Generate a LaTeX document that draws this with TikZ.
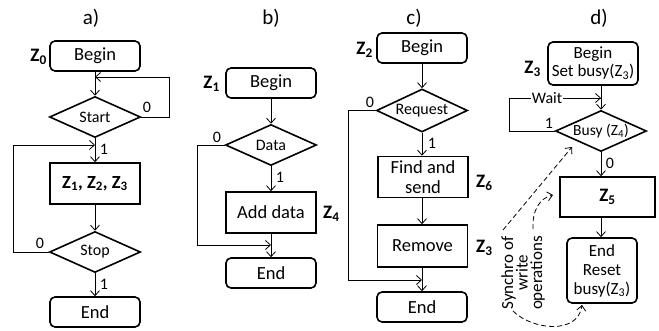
\documentclass[tikz,border=0pt]{standalone}
\usepackage{fontspec}
\setmainfont{Carlito}
\usetikzlibrary{shapes.geometric,arrows.meta}
\begin{document}
\begin{tikzpicture}[x=1pt,y=-1pt,
  every node/.style={inner sep=0pt},
  term/.style={draw,line width=1.6pt,rounded corners=5pt,minimum width=90pt,minimum height=30pt,font=\fontsize{18.5}{20}\selectfont,align=center},
  proc/.style={draw,line width=1.6pt,minimum width=90pt,minimum height=41pt,font=\fontsize{18.5}{20}\selectfont,align=center},
  dec/.style={draw,diamond,aspect=2.3,line width=1.6pt,minimum width=91pt,minimum height=41pt,font=\fontsize{16}{18}\selectfont},
  lab/.style={font=\fontsize{16}{18}\selectfont},
  zlab/.style={font=\fontsize{19}{20}\selectfont\bfseries},
  ttl/.style={font=\fontsize{21}{22}\selectfont},
  conn/.style={line width=0.8pt,-{Straight Barb[length=5pt,width=9pt]}},
  dsh/.style={conn,dash pattern=on 5pt off 3pt},
]
\useasboundingbox (0,0) rectangle (659,331);

% ---------- a)
\node[ttl] (ta) at (91,18) {a)};
\node[term] (a1) at (95,56) {Begin};
\node[zlab,anchor=east] (za0) at (47,57) {Z\textsubscript{0}};
\node[dec] (a2) at (95,117) {Start};
\node[proc] (a3) at (95,183.5) {\textbf{Z\textsubscript{1}, Z\textsubscript{2}, Z\textsubscript{3}}};
\node[dec] (a4) at (95,252) {Stop};
\node[term] (a5) at (95,312) {End};
\coordinate (aj1) at (95,77);
\coordinate (aj2) at (95,145);
\draw[conn] (a1) -- (a2);
\draw[conn] (a2.east) -- ++(28,0) |- (aj1);
\draw[conn] (a2) -- (a3);
\draw[conn] (a3) -- (a4);
\draw[conn] (a4.west) -- ++(-35,0) |- (aj2);
\draw[conn] (a4) -- (a5);
\node[lab] (la1) at (147,107) {0};
\node[lab] (la2) at (104,149) {1};
\node[lab] (la3) at (40,243) {0};
\node[lab] (la4) at (104,284) {1};

% ---------- b)
\node[ttl] (tb) at (271,18) {b)};
\node[term] (b1) at (271,83) {Begin};
\node[zlab,anchor=east] (zb1) at (220,84) {Z\textsubscript{1}};
\node[dec] (b2) at (271,145) {Data};
\node[proc] (b3) at (271,212.5) {Add data};
\node[zlab,anchor=west] (zb4) at (323,214) {Z\textsubscript{4}};
\node[term] (b4) at (271,273) {End};
\coordinate (bj) at (271,245);
\draw[conn] (b1) -- (b2);
\draw[conn] (b2) -- (b3);
\draw[conn] (b3) -- (b4);
\draw[conn] (b2.west) -- ++(-27,0) |- (bj);
\node[lab] (lb1) at (217,137) {0};
\node[lab] (lb2) at (280,177) {1};

% ---------- c)
\node[ttl] (tc) at (414,18) {c)};
\node[term] (c1) at (422,48) {Begin};
\node[zlab,anchor=east] (zc2) at (373,50) {Z\textsubscript{2}};
\node[dec,minimum height=43pt] (c2) at (422,110.5) {Request};
\node[proc,minimum height=41pt] (c3) at (423,177) {Find and\\send};
\node[zlab,anchor=west] (zc6) at (476,183) {Z\textsubscript{6}};
\node[proc,minimum height=42pt] (c4) at (422.5,246) {Remove};
\node[zlab,anchor=west] (zc3) at (476,248) {Z\textsubscript{3}};
\node[term] (c5) at (422,307) {End};
\coordinate (cj) at (422,280);
\draw[conn] (c1) -- (c2);
\draw[conn] (c2.south) -- (c2.south |- c3.north);
\draw[conn] (c2.south |- c3.south) -- (c2.south |- c4.north);
\draw[conn] (c2.south |- c4.south) -- (c5);
\draw[conn] (c2.west) -- ++(-27,0) |- (cj);
\node[lab] (lc1) at (370,102) {0};
\node[lab] (lc2) at (432,143) {1};

% ---------- d)
\node[ttl] (td) at (599,18) {d)};
\node[term,minimum height=43pt,font=\fontsize{17}{18}\selectfont] (d1) at (593,63.5) {Begin\\Set busy(Z\textsubscript{3})};
\node[zlab,anchor=east] (zd3) at (541,69) {Z\textsubscript{3}};
\node[dec,font=\fontsize{15.5}{17}\selectfont] (d2) at (601,131) {Busy (Z\textsubscript{4})};
\node[proc,minimum width=95pt,minimum height=40pt,font=\fontsize{19}{20}\selectfont\bfseries] (d3) at (607.5,197) {Z\textsubscript{5}};
\node[term,minimum width=70pt,minimum height=65pt,font=\fontsize{17}{19}\selectfont] (d4) at (602,270.5) {End\\Reset\\busy(Z\textsubscript{3})};
\coordinate (dj) at (601,98);
\draw[conn] (d1.south -| d2.north) -- (d2.north);
\draw[conn] (d2.south) -- (d2.south |- d3.north);
\draw[conn] (d2.south |- d3.south) -- (d2.south |- d4.north);
\draw[line width=0.8pt] (d2.west) -- ++(-45,0) |- (dj);
\node[font=\fontsize{16}{18}\selectfont,fill=white,inner xsep=1pt] (wait) at (547,98) {Wait};
\draw[conn] (wait.east) -- (dj);
\node[lab] (ld1) at (549,123) {1};
\node[lab] (ld2) at (610,163) {0};
\node[rotate=90,align=center,font=\fontsize{17}{14.5}\selectfont] (syn) at (523,273) {Synchro of\\write\\operations};
\coordinate (s1) at (503,230);
\coordinate (s2) at (533,229);
\coordinate (s3) at (513,311);
\draw[dsh] (s1) -- (572,147);
\draw[dsh] (s2) .. controls (532,210) and (540,198) .. (553,195);
\draw[dsh] (s3) .. controls (532,330) and (578,335) .. (582,305);
\end{tikzpicture}
\end{document}
